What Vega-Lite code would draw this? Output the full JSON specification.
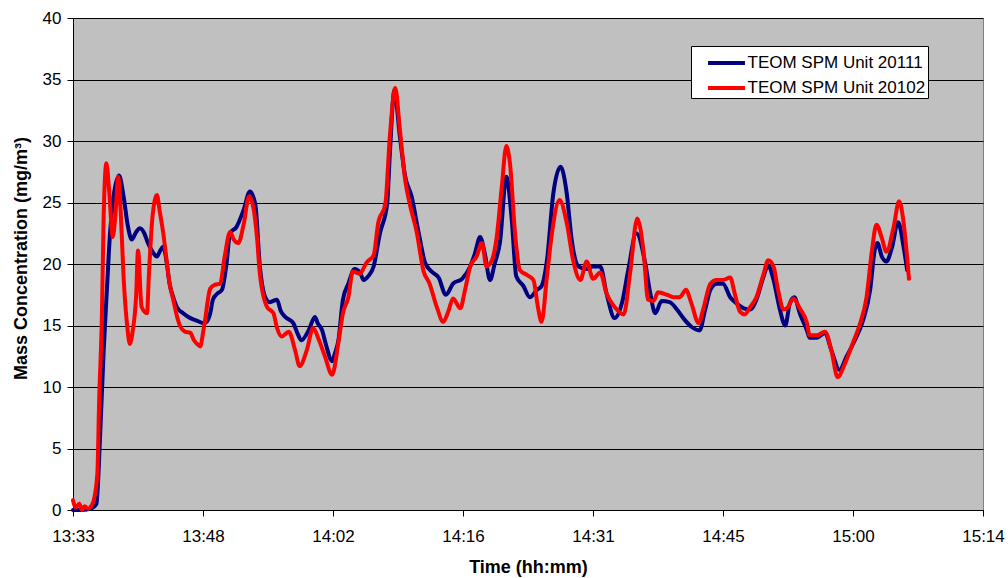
{
  "$schema": "https://vega.github.io/schema/vega-lite/v6.json",
  "width": 910,
  "height": 492,
  "autosize": {"type": "none"},
  "padding": {"left": 73, "top": 18, "right": 25, "bottom": 68},
  "background": "white",
  "config": {
    "font": "Liberation Sans",
    "view": {"fill": "#C0C0C0", "stroke": "#808080", "strokeWidth": 1},
    "axis": {
      "domainColor": "black", "tickColor": "black", "labelColor": "black", "titleColor": "black",
      "labelFont": "Liberation Sans", "titleFont": "Liberation Sans",
      "labelFontSize": 17, "titleFontSize": 18, "titleFontWeight": "bold",
      "tickSize": 6, "tickWidth": 1, "domainWidth": 1
    }
  },
  "datasets": {
    "blue": [
      {"t":813.6,"v":0,"u":"20111"},{"t":814.4,"v":0,"u":"20111"},{"t":815.5,"v":0.1,"u":"20111"},{"t":816.2,"v":0.5,"u":"20111"},
      {"t":816.6,"v":6,"u":"20111"},{"t":817.0,"v":13.0,"u":"20111"},{"t":817.4,"v":18.5,"u":"20111"},{"t":817.7,"v":22.5,"u":"20111"},
      {"t":818.1,"v":25.5,"u":"20111"},{"t":818.7,"v":27.2,"u":"20111"},{"t":819.2,"v":25.5,"u":"20111"},{"t":819.7,"v":23.0,"u":"20111"},
      {"t":820.1,"v":22.0,"u":"20111"},{"t":820.6,"v":22.6,"u":"20111"},{"t":821.0,"v":22.9,"u":"20111"},{"t":821.5,"v":22.5,"u":"20111"},
      {"t":821.9,"v":21.7,"u":"20111"},{"t":822.4,"v":21.0,"u":"20111"},{"t":822.9,"v":20.6,"u":"20111"},{"t":823.2,"v":21.0,"u":"20111"},
      {"t":823.6,"v":21.4,"u":"20111"},{"t":824.0,"v":20.0,"u":"20111"},{"t":824.3,"v":18.4,"u":"20111"},{"t":824.7,"v":17.3,"u":"20111"},
      {"t":825.1,"v":16.5,"u":"20111"},{"t":825.8,"v":16.0,"u":"20111"},{"t":826.6,"v":15.6,"u":"20111"},{"t":827.3,"v":15.4,"u":"20111"},
      {"t":828.0,"v":15.2,"u":"20111"},{"t":828.4,"v":15.3,"u":"20111"},{"t":828.8,"v":16.0,"u":"20111"},{"t":829.1,"v":17.1,"u":"20111"},
      {"t":829.6,"v":17.6,"u":"20111"},{"t":830.1,"v":17.9,"u":"20111"},{"t":830.6,"v":20.0,"u":"20111"},{"t":831.0,"v":22.5,"u":"20111"},
      {"t":831.7,"v":23.0,"u":"20111"},{"t":832.5,"v":24.4,"u":"20111"},{"t":833.2,"v":25.9,"u":"20111"},{"t":833.8,"v":24.8,"u":"20111"},
      {"t":834.3,"v":19.8,"u":"20111"},{"t":834.9,"v":17.3,"u":"20111"},{"t":835.4,"v":16.9,"u":"20111"},{"t":836.2,"v":17.1,"u":"20111"},
      {"t":836.6,"v":16.2,"u":"20111"},{"t":837.1,"v":15.7,"u":"20111"},{"t":838.0,"v":15.2,"u":"20111"},{"t":838.5,"v":14.3,"u":"20111"},
      {"t":838.9,"v":13.8,"u":"20111"},{"t":839.7,"v":14.6,"u":"20111"},{"t":840.4,"v":15.7,"u":"20111"},{"t":840.7,"v":15.2,"u":"20111"},
      {"t":841.2,"v":14.6,"u":"20111"},{"t":841.6,"v":13.5,"u":"20111"},{"t":842.3,"v":12.1,"u":"20111"},{"t":842.6,"v":12.7,"u":"20111"},
      {"t":843.0,"v":13.8,"u":"20111"},{"t":843.5,"v":17.1,"u":"20111"},{"t":844.1,"v":18.4,"u":"20111"},{"t":844.8,"v":19.6,"u":"20111"},
      {"t":845.4,"v":19.3,"u":"20111"},{"t":845.8,"v":18.7,"u":"20111"},{"t":846.3,"v":19.0,"u":"20111"},{"t":846.9,"v":19.8,"u":"20111"},
      {"t":847.6,"v":22.5,"u":"20111"},{"t":848.4,"v":24.9,"u":"20111"},{"t":848.7,"v":29.0,"u":"20111"},{"t":849.2,"v":34.1,"u":"20111"},
      {"t":849.8,"v":30.4,"u":"20111"},{"t":850.4,"v":27.1,"u":"20111"},{"t":851.1,"v":25.5,"u":"20111"},{"t":851.9,"v":22.5,"u":"20111"},
      {"t":852.6,"v":20.1,"u":"20111"},{"t":853.3,"v":19.4,"u":"20111"},{"t":854.1,"v":18.9,"u":"20111"},{"t":854.9,"v":17.5,"u":"20111"},
      {"t":855.7,"v":18.4,"u":"20111"},{"t":856.7,"v":18.8,"u":"20111"},{"t":857.6,"v":19.8,"u":"20111"},{"t":858.1,"v":20.8,"u":"20111"},
      {"t":858.7,"v":22.2,"u":"20111"},{"t":859.2,"v":20.9,"u":"20111"},{"t":859.8,"v":18.7,"u":"20111"},{"t":860.3,"v":20.0,"u":"20111"},
      {"t":860.9,"v":21.8,"u":"20111"},{"t":861.6,"v":27.1,"u":"20111"},{"t":862.2,"v":23.6,"u":"20111"},{"t":862.7,"v":19.0,"u":"20111"},
      {"t":863.5,"v":18.2,"u":"20111"},{"t":864.2,"v":17.3,"u":"20111"},{"t":865.0,"v":17.9,"u":"20111"},{"t":865.5,"v":18.2,"u":"20111"},
      {"t":866.1,"v":20.3,"u":"20111"},{"t":866.8,"v":25.7,"u":"20111"},{"t":867.6,"v":27.9,"u":"20111"},{"t":868.3,"v":25.7,"u":"20111"},
      {"t":868.8,"v":22.2,"u":"20111"},{"t":869.6,"v":19.8,"u":"20111"},{"t":870.5,"v":19.6,"u":"20111"},{"t":871.2,"v":19.8,"u":"20111"},
      {"t":872.0,"v":19.8,"u":"20111"},{"t":872.7,"v":17.6,"u":"20111"},{"t":873.6,"v":15.6,"u":"20111"},{"t":874.4,"v":16.8,"u":"20111"},
      {"t":875.1,"v":19.5,"u":"20111"},{"t":876.0,"v":22.5,"u":"20111"},{"t":877.0,"v":20.0,"u":"20111"},{"t":877.5,"v":17.8,"u":"20111"},
      {"t":878.1,"v":16.0,"u":"20111"},{"t":878.8,"v":17.0,"u":"20111"},{"t":879.7,"v":16.9,"u":"20111"},{"t":880.5,"v":16.3,"u":"20111"},
      {"t":881.2,"v":15.6,"u":"20111"},{"t":882.1,"v":14.9,"u":"20111"},{"t":883.0,"v":14.6,"u":"20111"},{"t":883.6,"v":16.2,"u":"20111"},
      {"t":884.2,"v":17.9,"u":"20111"},{"t":884.9,"v":18.4,"u":"20111"},{"t":885.6,"v":18.4,"u":"20111"},{"t":886.4,"v":17.3,"u":"20111"},
      {"t":887.1,"v":16.8,"u":"20111"},{"t":887.9,"v":16.4,"u":"20111"},{"t":888.6,"v":16.3,"u":"20111"},{"t":889.3,"v":17.1,"u":"20111"},
      {"t":890.1,"v":19.0,"u":"20111"},{"t":890.6,"v":19.9,"u":"20111"},{"t":891.2,"v":18.7,"u":"20111"},{"t":891.9,"v":16.3,"u":"20111"},
      {"t":892.5,"v":15.0,"u":"20111"},{"t":893.0,"v":16.8,"u":"20111"},{"t":893.5,"v":17.3,"u":"20111"},{"t":894.1,"v":16.0,"u":"20111"},
      {"t":894.9,"v":14.6,"u":"20111"},{"t":895.2,"v":14.0,"u":"20111"},{"t":896.0,"v":14.0,"u":"20111"},{"t":896.9,"v":14.4,"u":"20111"},
      {"t":897.6,"v":13.0,"u":"20111"},{"t":898.5,"v":11.4,"u":"20111"},{"t":899.3,"v":12.5,"u":"20111"},{"t":900.2,"v":13.8,"u":"20111"},
      {"t":901.1,"v":15.4,"u":"20111"},{"t":901.9,"v":17.9,"u":"20111"},{"t":902.4,"v":21.1,"u":"20111"},{"t":902.7,"v":21.7,"u":"20111"},
      {"t":903.2,"v":20.6,"u":"20111"},{"t":903.7,"v":20.2,"u":"20111"},{"t":904.3,"v":21.3,"u":"20111"},{"t":905.0,"v":23.4,"u":"20111"},
      {"t":905.6,"v":21.4,"u":"20111"},{"t":906.0,"v":19.5,"u":"20111"}
    ],
    "red": [
      {"t":813.6,"v":0.8,"u":"20102"},{"t":813.9,"v":0.2,"u":"20102"},{"t":814.3,"v":0.5,"u":"20102"},{"t":814.6,"v":0.0,"u":"20102"},
      {"t":814.9,"v":0.3,"u":"20102"},{"t":815.3,"v":0.1,"u":"20102"},{"t":815.6,"v":0.3,"u":"20102"},{"t":815.9,"v":0.8,"u":"20102"},
      {"t":816.3,"v":3,"u":"20102"},{"t":816.5,"v":9,"u":"20102"},{"t":816.8,"v":15.7,"u":"20102"},{"t":817.0,"v":24,"u":"20102"},
      {"t":817.3,"v":28.2,"u":"20102"},{"t":817.6,"v":26,"u":"20102"},{"t":818.0,"v":22.2,"u":"20102"},{"t":818.3,"v":24,"u":"20102"},
      {"t":818.6,"v":27.1,"u":"20102"},{"t":818.9,"v":24,"u":"20102"},{"t":819.2,"v":19,"u":"20102"},{"t":819.6,"v":15,"u":"20102"},
      {"t":819.9,"v":13.5,"u":"20102"},{"t":820.2,"v":14.5,"u":"20102"},{"t":820.6,"v":17.5,"u":"20102"},{"t":820.8,"v":21.1,"u":"20102"},
      {"t":821.2,"v":16.5,"u":"20102"},{"t":821.8,"v":16.0,"u":"20102"},{"t":822.0,"v":19,"u":"20102"},{"t":822.4,"v":23.8,"u":"20102"},
      {"t":822.9,"v":25.6,"u":"20102"},{"t":823.2,"v":24.3,"u":"20102"},{"t":823.6,"v":22.5,"u":"20102"},{"t":824.0,"v":20.1,"u":"20102"},
      {"t":824.3,"v":18.4,"u":"20102"},{"t":824.7,"v":17.1,"u":"20102"},{"t":825.1,"v":15.8,"u":"20102"},{"t":825.5,"v":14.9,"u":"20102"},
      {"t":826.0,"v":14.5,"u":"20102"},{"t":826.6,"v":14.4,"u":"20102"},{"t":827.0,"v":13.8,"u":"20102"},{"t":827.5,"v":13.4,"u":"20102"},
      {"t":827.7,"v":13.3,"u":"20102"},{"t":828.0,"v":14.4,"u":"20102"},{"t":828.2,"v":15.3,"u":"20102"},{"t":828.8,"v":18.0,"u":"20102"},
      {"t":829.3,"v":18.3,"u":"20102"},{"t":829.9,"v":18.4,"u":"20102"},{"t":830.4,"v":20.6,"u":"20102"},{"t":831.0,"v":22.6,"u":"20102"},
      {"t":831.4,"v":22.0,"u":"20102"},{"t":831.9,"v":21.7,"u":"20102"},{"t":832.5,"v":23.2,"u":"20102"},{"t":833.1,"v":25.5,"u":"20102"},
      {"t":833.6,"v":24.5,"u":"20102"},{"t":834.0,"v":22.0,"u":"20102"},{"t":834.3,"v":19.2,"u":"20102"},{"t":835.1,"v":16.5,"u":"20102"},
      {"t":835.8,"v":16.0,"u":"20102"},{"t":836.2,"v":14.8,"u":"20102"},{"t":836.7,"v":14.1,"u":"20102"},{"t":837.5,"v":14.5,"u":"20102"},
      {"t":838.2,"v":13.0,"u":"20102"},{"t":838.7,"v":11.7,"u":"20102"},{"t":839.5,"v":13.0,"u":"20102"},{"t":840.2,"v":14.8,"u":"20102"},
      {"t":840.8,"v":13.9,"u":"20102"},{"t":841.5,"v":12.5,"u":"20102"},{"t":842.3,"v":11.0,"u":"20102"},{"t":843.0,"v":13.6,"u":"20102"},
      {"t":843.5,"v":16.0,"u":"20102"},{"t":844.1,"v":17.3,"u":"20102"},{"t":844.6,"v":19.4,"u":"20102"},{"t":845.4,"v":19.2,"u":"20102"},
      {"t":845.6,"v":19.4,"u":"20102"},{"t":846.1,"v":20.1,"u":"20102"},{"t":846.9,"v":20.7,"u":"20102"},{"t":847.4,"v":23.3,"u":"20102"},
      {"t":848.2,"v":24.9,"u":"20102"},{"t":848.7,"v":30.4,"u":"20102"},{"t":849.3,"v":34.3,"u":"20102"},{"t":849.8,"v":31.0,"u":"20102"},
      {"t":850.4,"v":26.8,"u":"20102"},{"t":850.9,"v":24.9,"u":"20102"},{"t":851.7,"v":22.5,"u":"20102"},{"t":852.4,"v":19.5,"u":"20102"},
      {"t":853.1,"v":18.4,"u":"20102"},{"t":853.9,"v":16.5,"u":"20102"},{"t":854.6,"v":15.3,"u":"20102"},{"t":855.2,"v":16.2,"u":"20102"},
      {"t":855.7,"v":17.2,"u":"20102"},{"t":856.5,"v":16.4,"u":"20102"},{"t":857.0,"v":17.8,"u":"20102"},{"t":857.6,"v":19.8,"u":"20102"},
      {"t":858.3,"v":20.6,"u":"20102"},{"t":858.9,"v":21.7,"u":"20102"},{"t":859.4,"v":19.8,"u":"20102"},{"t":860.0,"v":20.3,"u":"20102"},
      {"t":860.5,"v":22.0,"u":"20102"},{"t":861.1,"v":26.3,"u":"20102"},{"t":861.6,"v":29.6,"u":"20102"},{"t":862.0,"v":28.2,"u":"20102"},
      {"t":862.6,"v":22.2,"u":"20102"},{"t":863.1,"v":19.5,"u":"20102"},{"t":863.9,"v":19.1,"u":"20102"},{"t":864.6,"v":18.7,"u":"20102"},
      {"t":865.1,"v":16.5,"u":"20102"},{"t":865.5,"v":15.3,"u":"20102"},{"t":866.1,"v":19.0,"u":"20102"},{"t":866.6,"v":22.2,"u":"20102"},
      {"t":867.5,"v":25.2,"u":"20102"},{"t":868.3,"v":23.3,"u":"20102"},{"t":869.0,"v":20.3,"u":"20102"},{"t":869.8,"v":18.7,"u":"20102"},
      {"t":870.5,"v":20.2,"u":"20102"},{"t":871.2,"v":18.8,"u":"20102"},{"t":872.0,"v":19.3,"u":"20102"},{"t":872.7,"v":17.6,"u":"20102"},
      {"t":873.6,"v":16.5,"u":"20102"},{"t":874.6,"v":15.9,"u":"20102"},{"t":875.3,"v":19.2,"u":"20102"},{"t":876.1,"v":23.7,"u":"20102"},
      {"t":876.8,"v":21.0,"u":"20102"},{"t":877.3,"v":17.1,"u":"20102"},{"t":877.9,"v":17.0,"u":"20102"},{"t":878.4,"v":17.7,"u":"20102"},
      {"t":879.4,"v":17.5,"u":"20102"},{"t":880.1,"v":17.3,"u":"20102"},{"t":880.8,"v":17.3,"u":"20102"},{"t":881.5,"v":17.9,"u":"20102"},
      {"t":882.1,"v":16.8,"u":"20102"},{"t":882.9,"v":15.2,"u":"20102"},{"t":883.4,"v":16.3,"u":"20102"},{"t":884.2,"v":18.4,"u":"20102"},
      {"t":884.9,"v":18.7,"u":"20102"},{"t":885.6,"v":18.7,"u":"20102"},{"t":886.4,"v":18.9,"u":"20102"},{"t":886.9,"v":17.6,"u":"20102"},
      {"t":887.5,"v":16.1,"u":"20102"},{"t":888.0,"v":15.9,"u":"20102"},{"t":888.6,"v":16.5,"u":"20102"},{"t":889.3,"v":17.3,"u":"20102"},
      {"t":890.1,"v":19.2,"u":"20102"},{"t":890.6,"v":20.3,"u":"20102"},{"t":891.2,"v":19.8,"u":"20102"},{"t":891.7,"v":17.9,"u":"20102"},
      {"t":892.3,"v":16.3,"u":"20102"},{"t":892.8,"v":16.5,"u":"20102"},{"t":893.4,"v":17.2,"u":"20102"},{"t":894.1,"v":16.4,"u":"20102"},
      {"t":894.9,"v":15.2,"u":"20102"},{"t":895.2,"v":14.2,"u":"20102"},{"t":896.0,"v":14.2,"u":"20102"},{"t":896.9,"v":14.5,"u":"20102"},
      {"t":897.6,"v":13.0,"u":"20102"},{"t":898.3,"v":10.8,"u":"20102"},{"t":899.1,"v":11.9,"u":"20102"},{"t":900.0,"v":13.6,"u":"20102"},
      {"t":900.8,"v":15.2,"u":"20102"},{"t":901.5,"v":17.3,"u":"20102"},{"t":902.1,"v":21.1,"u":"20102"},{"t":902.6,"v":23.2,"u":"20102"},
      {"t":903.2,"v":22.1,"u":"20102"},{"t":903.7,"v":21.0,"u":"20102"},{"t":904.5,"v":23.0,"u":"20102"},{"t":905.1,"v":25.1,"u":"20102"},
      {"t":905.6,"v":23.4,"u":"20102"},{"t":906.0,"v":20.5,"u":"20102"},{"t":906.2,"v":18.8,"u":"20102"}
    ]
  },
  "encoding": {
    "x": {
      "field": "t", "type": "quantitative",
      "scale": {"domain": [813.6, 914.4], "nice": false, "zero": false},
      "axis": {
        "title": "Time (hh:mm)",
        "values": [813.6, 828, 842.4, 856.8, 871.2, 885.6, 900, 914.4],
        "labelExpr": "floor(datum.value/60) + ':' + (floor(datum.value%60) < 10 ? '0' : '') + floor(datum.value%60)",
        "grid": false, "labelPadding": 12, "labelFlush": false, "labelOverlap": false,
        "titleY": 62, "titleBaseline": "alphabetic"
      }
    },
    "y": {
      "field": "v", "type": "quantitative",
      "scale": {"domain": [0, 40], "nice": false},
      "axis": {
        "title": "Mass Concentration (mg/m³)",
        "values": [0, 5, 10, 15, 20, 25, 30, 35, 40],
        "grid": true, "gridColor": "black", "gridWidth": 1, "gridOpacity": 1,
        "labelPadding": 6,
        "titleX": -43, "titleY": 240, "titleAngle": 270, "titleBaseline": "bottom", "titleAlign": "center"
      }
    },
    "color": {
      "field": "u", "type": "nominal",
      "scale": {"domain": ["20111", "20102"], "range": ["#000080", "#FF0000"]},
      "legend": {
        "orient": "none", "legendX": 618, "legendY": 28, "title": null, "direction": "vertical",
        "padding": 2, "rowPadding": 2, "fillColor": "white", "strokeColor": "black", "cornerRadius": 0,
        "symbolType": "M-1.42,0H1.42", "symbolSize": 676, "symbolStrokeWidth": 4, "symbolOffset": 18.5,
        "labelOffset": 6, "labelFontSize": 17, "labelColor": "black", "labelFont": "Liberation Sans", "labelLimit": 400,
        "labelExpr": "'TEOM SPM Unit ' + datum.label"
      }
    }
  },
  "layer": [
    {"data": {"name": "blue"}, "mark": {"type": "line", "strokeWidth": 4, "strokeJoin": "round", "strokeCap": "round", "interpolate": "monotone"}},
    {"data": {"name": "red"}, "mark": {"type": "line", "strokeWidth": 4, "strokeJoin": "round", "strokeCap": "round", "interpolate": "monotone"}}
  ]
}
